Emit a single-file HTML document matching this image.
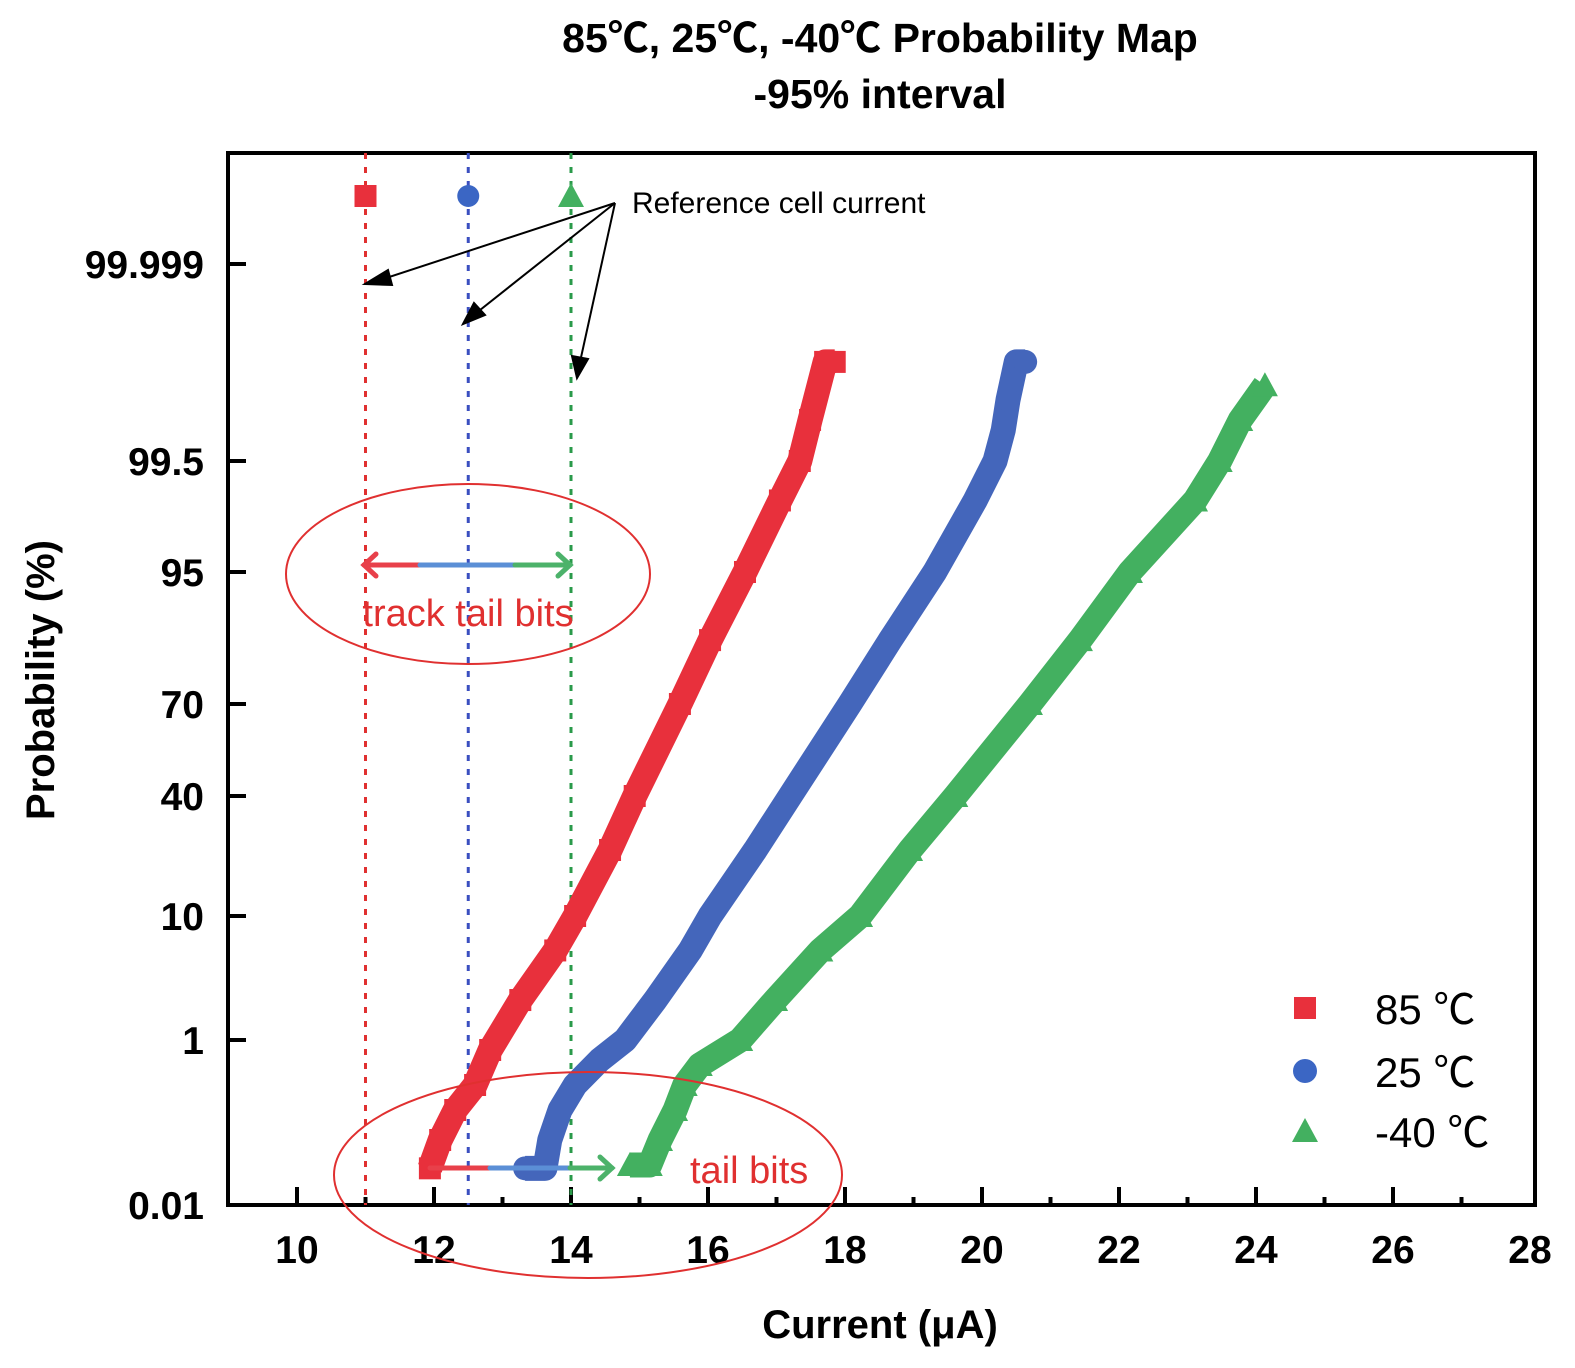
<!DOCTYPE html>
<html><head><meta charset="utf-8"><style>
body{margin:0;background:#fff}
svg{display:block;font-family:"Liberation Sans","Noto Sans CJK SC",sans-serif}
</style></head><body>
<svg id="chart" width="1575" height="1368" viewBox="0 0 1575 1368">
<text x="880" y="52" text-anchor="middle" font-size="41" font-weight="bold">85℃, 25℃, -40℃ Probability Map</text>
<text x="880" y="108" text-anchor="middle" font-size="41" font-weight="bold">-95% interval</text>
<text x="880" y="1338" text-anchor="middle" font-size="40" font-weight="bold">Current (μA)</text>
<text transform="translate(54,680) rotate(-90)" text-anchor="middle" font-size="40" font-weight="bold">Probability (%)</text>
<g id="axes"></g>
<g id="refs"></g>
<g id="series"></g>
<g id="annot">
<text x="632" y="213" font-size="30">Reference cell current</text>
<g stroke="#000" stroke-width="2" fill="#000">
<line x1="615" y1="203" x2="380" y2="280"/><polygon points="365,284 388,270 392,285"/>
<line x1="615" y1="203" x2="475" y2="314"/><polygon points="463,324 474,303 485,315"/>
<line x1="615" y1="203" x2="580" y2="362"/><polygon points="577,378 572,356 588,359"/>
</g>
<ellipse cx="468" cy="574" rx="182" ry="90" fill="none" stroke="#e03030" stroke-width="2"/>
<ellipse cx="588" cy="1175" rx="254" ry="103" fill="none" stroke="#e03030" stroke-width="2"/>
<g stroke-width="5" fill="none" stroke-linecap="round">
<line x1="364" y1="565" x2="420" y2="565" stroke="#e8404a"/><line x1="420" y1="565" x2="515" y2="565" stroke="#5b8fd6"/><line x1="515" y1="565" x2="570" y2="565" stroke="#4cb26a"/>
<polyline points="376,554 364,565 376,576" stroke="#e8404a"/><polyline points="558,554 570,565 558,576" stroke="#4cb26a"/>
</g>
<text x="468" y="626" text-anchor="middle" font-size="38" fill="#e03030">track tail bits</text>
<text x="690" y="1183" font-size="38" fill="#e03030">tail bits</text>
</g>
<g id="legend"></g>
</svg>
<script>
const xTicks=[10,12,14,16,18,20,22,24,26,28];
const yTicks=[0.01,1,10,40,70,95,99.5,99.999];
const yTickLabels=["0.01","1","10","40","70","95","99.5","99.999"];
const yTickPix=[1205,1040,916,796,704,572,461,264];
const refCurrents=[11,12.5,14];
const refColors=["#e03030","#3a4fc0","#2a9a4a"];
const red_x=[11.94,12.09,12.31,12.60,12.82,13.26,13.77,14.06,14.57,14.93,15.59,16.03,16.54,17.05,17.34,17.49,17.71,17.85];
const red_p=[0.23,0.40,0.58,0.73,0.94,3.9,7.5,10,26.5,40,70,82.1,95,97.9,99.5,99.604,99.751,99.751];
const blue_x=[13.33,13.62,13.69,13.84,14.06,14.42,14.79,15.23,15.74,16.03,16.69,17.20,18.07,18.66,19.31,19.90,20.19,20.31,20.38,20.50,20.63];
const blue_p=[0.23,0.23,0.40,0.58,0.73,0.88,1,3.9,7.5,10,26.5,40,70,82.1,95,97.9,99.5,99.578,99.655,99.751,99.751];
const green_x=[14.86,15.15,15.30,15.52,15.66,15.88,16.47,16.98,17.64,18.22,18.95,19.61,20.70,21.43,22.16,23.11,23.47,23.77,24.13];
const green_p=[0.25,0.25,0.40,0.58,0.73,0.85,1,3.9,7.5,10,26.5,40,70,82.1,95,97.9,99.5,99.604,99.692];
const X0=228,X1=1535,Y0=153,Y1=1205;
function xs(v){return 297+(v-10)*68.5;}
function ys(p){for(let i=0;i<yTicks.length-1;i++){if(p<=yTicks[i+1]){const f=(p-yTicks[i])/(yTicks[i+1]-yTicks[i]);return yTickPix[i]+f*(yTickPix[i+1]-yTickPix[i]);}}return yTickPix[yTickPix.length-1];}
const NS="http://www.w3.org/2000/svg";
function mk(tag,attrs,parent){const e=document.createElementNS(NS,tag);for(const k in attrs)e.setAttribute(k,attrs[k]);parent.appendChild(e);return e;}
const axes=document.getElementById('axes');
let fr=mk('rect',{x:X0,y:Y0,width:X1-X0,height:Y1-Y0,fill:'none',stroke:'#000','stroke-width':4},axes);


for(let v=10;v<=27;v++){const major=v%2===0;let t=mk('line',{x1:xs(v),x2:xs(v),y1:Y1,y2:Y1-(major?18:8),stroke:'#000','stroke-width':4},axes);

}
xTicks.forEach(v=>{let t=mk('text',{x:xs(v),y:1263,'text-anchor':'middle','font-size':39,'font-weight':'bold'},axes);t.textContent=v;

});
yTicks.forEach((v,i)=>{const y=ys(v);let t=mk('line',{x1:X0,x2:X0+18,y1:y,y2:y,stroke:'#000','stroke-width':4},axes);


let l=mk('text',{x:204,y:y+14,'text-anchor':'end','font-size':39,'font-weight':'bold'},axes);l.textContent=yTickLabels[i];

});
const refs=document.getElementById('refs');
refCurrents.forEach((c,i)=>{let l=mk('line',{x1:xs(c),x2:xs(c),y1:Y0,y2:Y1,stroke:refColors[i],'stroke-width':3,'stroke-dasharray':'6,8'},refs);

});
function marker(shape,x,y,col,g,s){let e;
if(shape==='sq')e=mk('rect',{x:x-s,y:y-s,width:2*s,height:2*s,fill:col},g);
else if(shape==='ci')e=mk('circle',{cx:x,cy:y,r:s,fill:col},g);
else e=mk('polygon',{points:`${x},${y-s-2} ${x-s-2},${y+s} ${x+s+2},${y+s}`,fill:col},g);
return e;}
const refMarkY=196;
[['sq','#e8303c'],['ci','#3b66c4'],['tr','#43b060']].forEach((m,i)=>{let e=marker(m[0],xs(refCurrents[i]),refMarkY,m[1],refs,11);

});
const sg=document.getElementById('series');
function series(xv,pv,shape,col,name){const g=mk('g',{},sg);


mk('polyline',{points:xv.map((x,i)=>xs(x)+','+ys(pv[i])).join(' '),fill:'none',stroke:col,'stroke-width':25,'stroke-linejoin':'round'},g);
xv.forEach((x,i)=>{let e=marker(shape,xs(x),ys(pv[i]),col,g,shape==='ci'?12:11);

});}
series(red_x,red_p,'sq','#e8303c','series-85c');
series(blue_x,blue_p,'ci','#4466bb','series-25c');
series(green_x,green_p,'tr','#43b060','series-minus40c');
const tg=mk('g',{'stroke-width':5,fill:'none','stroke-linecap':'round'},sg);


mk('line',{x1:430,x2:490,y1:1168,y2:1168,stroke:'#e8404a'},tg);
mk('line',{x1:490,x2:570,y1:1168,y2:1168,stroke:'#5b8fd6'},tg);
mk('line',{x1:570,x2:612,y1:1168,y2:1168,stroke:'#4cb26a'},tg);
mk('polyline',{points:'600,1157 612,1168 600,1179',stroke:'#4cb26a'},tg);
const lg=document.getElementById('legend');
const legLabels=["85 ℃","25 ℃","-40 ℃"];
[['sq','#e8303c',1008],['ci','#3b66c4',1071],['tr','#43b060',1131]].forEach((m,i)=>{const g=mk('g',{},lg);


marker(m[0],1305,m[2],m[1],g,m[0]==='ci'?12:11);
let t=mk('text',{x:1375,y:m[2]+16,'font-size':42},g);t.textContent=legLabels[i];});
</script>
</body></html>
